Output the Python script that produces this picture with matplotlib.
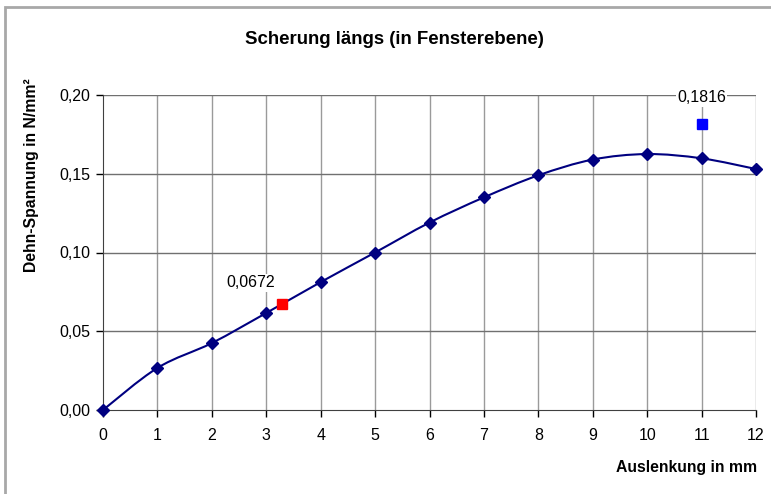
import numpy as np
import matplotlib
matplotlib.use('Agg')
from matplotlib import pyplot as plt
from matplotlib.path import Path
from matplotlib.patches import PathPatch, Rectangle

# Messwerte
auslenkung = [0, 1, 2, 3, 4, 5, 6, 7, 8, 9, 10, 11, 12]
spannung = [0.0, 0.0267, 0.0425, 0.0616, 0.0812, 0.1000, 0.1190, 0.1350, 0.1490, 0.1590, 0.1625, 0.1598, 0.1530]

# Einzelpunkte
rot_x, rot_y = [3.29], [0.0672]
blau_x, blau_y = [11.0], [0.1816]

x_ticks = list(range(0, 13))
y_ticks = [0.0, 0.05, 0.10, 0.15, 0.20]

plt.rcParams['font.family'] = ['Liberation Sans', 'DejaVu Sans']


def komma(v, stellen):
    return ('%.*f' % (stellen, v)).replace('.', ',')


def smooth_path(xs, ys):
    # Excel-artige Glättung (Bezier mit Catmull-Rom-Kontrollpunkten)
    pts = np.column_stack([xs, ys])
    n = len(pts)
    verts = [pts[0]]
    codes = [Path.MOVETO]
    for i in range(n - 1):
        p0 = pts[max(i - 1, 0)]
        p1 = pts[i]
        p2 = pts[i + 1]
        p3 = pts[min(i + 2, n - 1)]
        c1 = p1 + (p2 - p0) / 6.0
        c2 = p2 - (p3 - p1) / 6.0
        verts += [c1, c2, p2]
        codes += [Path.CURVE4] * 3
    return Path(verts, codes)


fig = plt.figure(figsize=(7.71, 4.94), dpi=100)
fig.patches.append(Rectangle((5 / 771, -0.1), 2, 1 - 7 / 494 + 0.1, transform=fig.transFigure,
                             fill=False, edgecolor='#a8a8a8', linewidth=2))
ax = fig.add_axes([103 / 771, 1 - 410 / 494, (756 - 103) / 771, (410 - 95) / 494])

ax.set_xlim(0, 12)
ax.set_ylim(0, 0.2)
ax.set_xticks(x_ticks)
ax.set_yticks(y_ticks)
ax.set_yticklabels([komma(v, 2) for v in y_ticks])
ax.tick_params(direction='out', length=5, width=1, color='#000000', labelsize=11.5)
ax.tick_params(axis='x', pad=8)
ax.tick_params(axis='y', pad=4)

for x in x_ticks[1:]:
    ax.axvline(x, color='#9a9a9a', linewidth=1, zorder=1)
for y in y_ticks[1:]:
    ax.axhline(y, color='#707070', linewidth=1, zorder=1)

for s in ['top', 'right']:
    ax.spines[s].set_visible(False)
ax.spines['left'].set_color('#404040')
ax.spines['bottom'].set_color('#404040')

patch = PathPatch(smooth_path(auslenkung, spannung), facecolor='none', edgecolor='#000080',
                  linewidth=1.5, zorder=3)
ax.add_patch(patch)
ax.plot(auslenkung, spannung, linestyle='none', marker='D', markersize=6,
        color='#000080', zorder=4, clip_on=False)

ax.plot(rot_x, rot_y, linestyle='none', marker='s', markersize=7, color='#ff0000', zorder=5)
ax.plot(blau_x, blau_y, linestyle='none', marker='s', markersize=7, color='#0000ff', zorder=5)

ax.text(rot_x[0] - 0.58, rot_y[0] + 0.0137, komma(rot_y[0], 4), ha='center',
        va='center', fontsize=11.5, zorder=6, bbox=dict(facecolor='white', edgecolor='none', pad=1))
ax.text(blau_x[0], blau_y[0] + 0.0165, komma(blau_y[0], 4), ha='center',
        va='center', fontsize=11.5, zorder=6, bbox=dict(facecolor='white', edgecolor='none', pad=1))

fig.text(394 / 771, 1 - 40 / 494, 'Scherung längs (in Fensterebene)', ha='center', va='center',
         fontsize=13.4, fontweight='bold')
fig.text(32 / 771, 1 - 175 / 494, 'Dehn-Spannung in N/mm²', ha='center', va='center',
         rotation=90, fontsize=11.3, fontweight='bold')
fig.text(757 / 771, 1 - 467 / 494, 'Auslenkung in mm', ha='right', va='center',
         fontsize=11.3, fontweight='bold')

plt.savefig('out.png', dpi=100)
